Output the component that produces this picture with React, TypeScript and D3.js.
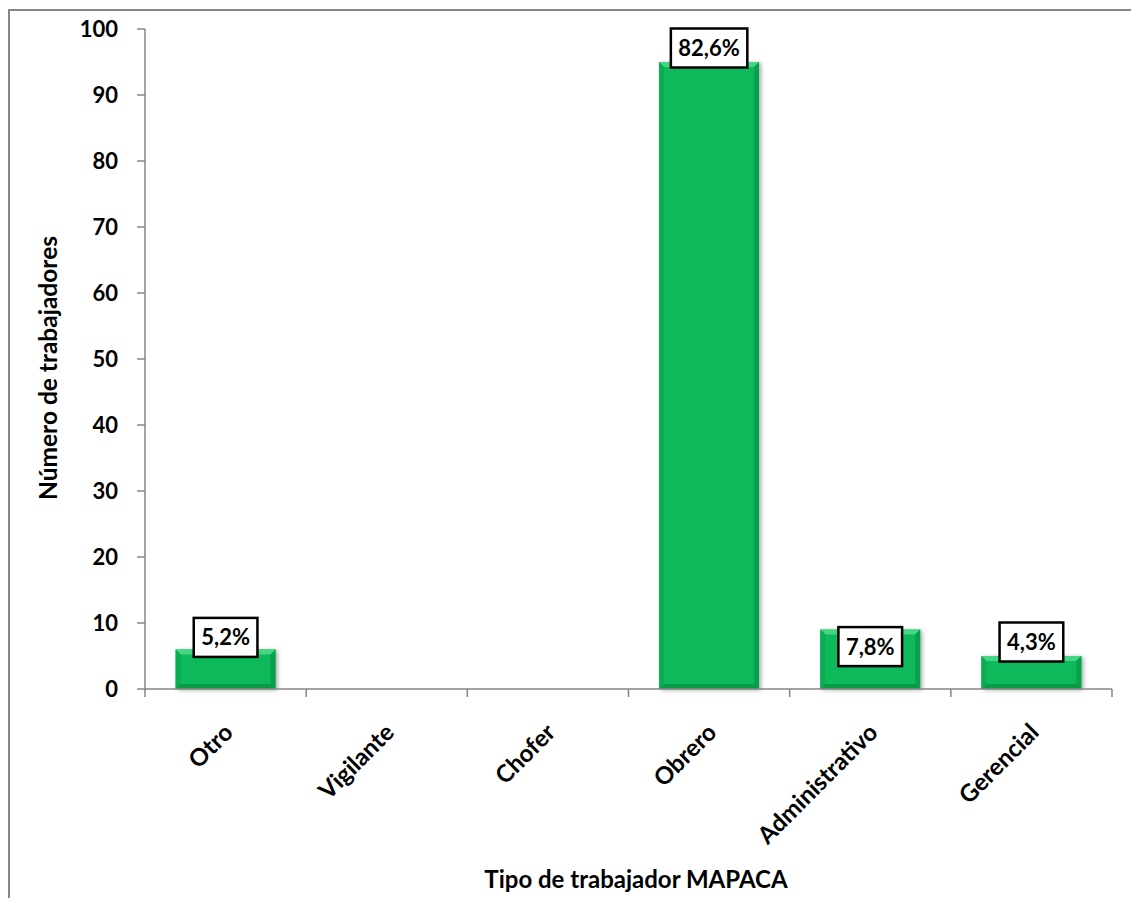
import React, { useEffect, useRef } from "react";
import * as d3 from "d3";

// Workers by type (MAPACA)
const categories = ["Otro", "Vigilante", "Chofer", "Obrero", "Administrativo", "Gerencial"];
const workers = [6, 0, 0, 95, 9, 5];
const percentLabels = ["5,2%", "", "", "82,6%", "7,8%", "4,3%"];
const yTicks = [0, 10, 20, 30, 40, 50, 60, 70, 80, 90, 100];

const W = 1131;
const H = 898;
const FONT = "Lato, 'Open Sans', sans-serif";

export default function App() {
  const ref = useRef<SVGSVGElement>(null);

  useEffect(() => {
    const svg = d3.select(ref.current);
    svg.selectAll("*").remove();

    const plot = { left: 145, right: 1112, top: 29, bottom: 689 };
    const axisColor = "#868686";

    // outer chart frame
    svg.append("rect")
      .attr("x", 9).attr("y", 10)
      .attr("width", W + 20).attr("height", H + 20)
      .attr("fill", "white").attr("stroke", axisColor).attr("stroke-width", 2);

    const x = d3.scaleBand<string>().domain(categories).range([plot.left, plot.right]).paddingInner(0.38).paddingOuter(0.19);
    const xOuter = d3.scaleBand<string>().domain(categories).range([plot.left, plot.right]);
    const y = d3.scaleLinear().domain([0, 100]).range([plot.bottom, plot.top]);

    const defs = svg.append("defs");
    const sh = defs.append("filter").attr("id", "shadow").attr("x", "-20%").attr("y", "-20%").attr("width", "140%").attr("height", "140%");
    sh.append("feGaussianBlur").attr("in", "SourceAlpha").attr("stdDeviation", 2);
    sh.append("feOffset").attr("dx", 2).attr("dy", 1).attr("result", "b");
    sh.append("feComponentTransfer").append("feFuncA").attr("type", "linear").attr("slope", 0.35);
    const m = sh.append("feMerge");
    m.append("feMergeNode");
    m.append("feMergeNode").attr("in", "SourceGraphic");

    // y axis
    svg.append("line").attr("x1", plot.left).attr("x2", plot.left).attr("y1", plot.top).attr("y2", plot.bottom)
      .attr("stroke", axisColor).attr("stroke-width", 1.5);
    const yt = svg.append("g");
    yTicks.forEach((t) => {
      yt.append("line").attr("x1", plot.left - 8).attr("x2", plot.left).attr("y1", y(t)).attr("y2", y(t))
        .attr("stroke", axisColor).attr("stroke-width", 1.5);
      yt.append("text").attr("x", plot.left - 27).attr("y", y(t)).attr("dy", "0.35em")
        .attr("text-anchor", "end").attr("font-family", FONT).attr("font-weight", 700)
        .attr("font-size", 22).attr("fill", "#000").text(String(t));
    });

    // bars with bevel
    const bev = 5;
    categories.forEach((c, i) => {
      const v = workers[i];
      if (v <= 0) return;
      const x0 = x(c)!;
      const bw = x.bandwidth();
      const y0 = y(v);
      const y1 = y(0);
      const g = svg.append("g");
      g.append("rect").attr("x", x0).attr("y", y0).attr("width", bw).attr("height", y1 - y0)
        .attr("fill", "#0CB95A").attr("filter", "url(#shadow)");
      // top facet
      g.append("polygon").attr("points", `${x0},${y0} ${x0 + bw},${y0} ${x0 + bw - bev},${y0 + bev} ${x0 + bev},${y0 + bev}`)
        .attr("fill", "#45D583");
      // left facet
      g.append("polygon").attr("points", `${x0},${y0} ${x0 + bev},${y0 + bev} ${x0 + bev},${y1 - bev} ${x0},${y1}`)
        .attr("fill", "#0AAD52");
      // right facet
      g.append("polygon").attr("points", `${x0 + bw},${y0} ${x0 + bw - bev},${y0 + bev} ${x0 + bw - bev},${y1 - bev} ${x0 + bw},${y1}`)
        .attr("fill", "#09A04B");
      // bottom facet
      g.append("polygon").attr("points", `${x0},${y1} ${x0 + bev},${y1 - bev} ${x0 + bw - bev},${y1 - bev} ${x0 + bw},${y1}`)
        .attr("fill", "#089A44");
    });

    // x axis
    svg.append("line").attr("x1", plot.left).attr("x2", plot.right).attr("y1", plot.bottom).attr("y2", plot.bottom)
      .attr("stroke", axisColor).attr("stroke-width", 1.5);
    const bounds = categories.map((c) => xOuter(c)!).concat([plot.right]);
    bounds.forEach((bx) => {
      svg.append("line").attr("x1", bx).attr("x2", bx).attr("y1", plot.bottom).attr("y2", plot.bottom + 8)
        .attr("stroke", axisColor).attr("stroke-width", 1.5);
    });
    categories.forEach((c) => {
      const cx = xOuter(c)! + xOuter.bandwidth() / 2;
      svg.append("text")
        .attr("transform", `translate(${cx - 3},${plot.bottom + 33}) rotate(-45)`)
        .attr("text-anchor", "end").attr("dy", "0.7em")
        .attr("font-family", FONT).attr("font-weight", 700).attr("font-size", 24).attr("fill", "#000")
        .text(c);
    });

    // data labels (boxed percentages)
    const labelShift = [-12, 0, 0, -14, 17, -14];
    categories.forEach((c, i) => {
      if (!percentLabels[i]) return;
      const cx = x(c)! + x.bandwidth() / 2;
      const cy = y(workers[i]) + labelShift[i];
      const gl = svg.append("g");
      const box = gl.append("rect");
      const t = gl.append("text").attr("x", cx).attr("y", cy).attr("dy", "0.36em")
        .attr("text-anchor", "middle").attr("font-family", FONT).attr("font-weight", 700)
        .attr("font-size", 22).attr("fill", "#000").text(percentLabels[i]);
      const tw = (t.node() as SVGTextElement).getComputedTextLength();
      const bw = tw + 15;
      const bh = 39;
      box.attr("x", cx - bw / 2).attr("y", cy - bh / 2).attr("width", bw).attr("height", bh)
        .attr("fill", "white").attr("stroke", "#000").attr("stroke-width", 2.5);
    });

    // axis titles
    svg.append("text")
      .attr("transform", `translate(48,368) rotate(-90)`)
      .attr("text-anchor", "middle").attr("dy", "0.35em")
      .attr("font-family", FONT).attr("font-weight", 700).attr("font-size", 24.5).attr("fill", "#000")
      .text("Número de trabajadores");
    svg.append("text")
      .attr("x", 636).attr("y", 888)
      .attr("text-anchor", "middle")
      .attr("font-family", FONT).attr("font-weight", 700).attr("font-size", 24).attr("fill", "#000")
      .text("Tipo de trabajador MAPACA");
  }, []);

  return (
    <svg ref={ref} width={W} height={H}
      style={{ position: "absolute", left: 0, top: 0, display: "block", background: "white" }} />
  );
}
